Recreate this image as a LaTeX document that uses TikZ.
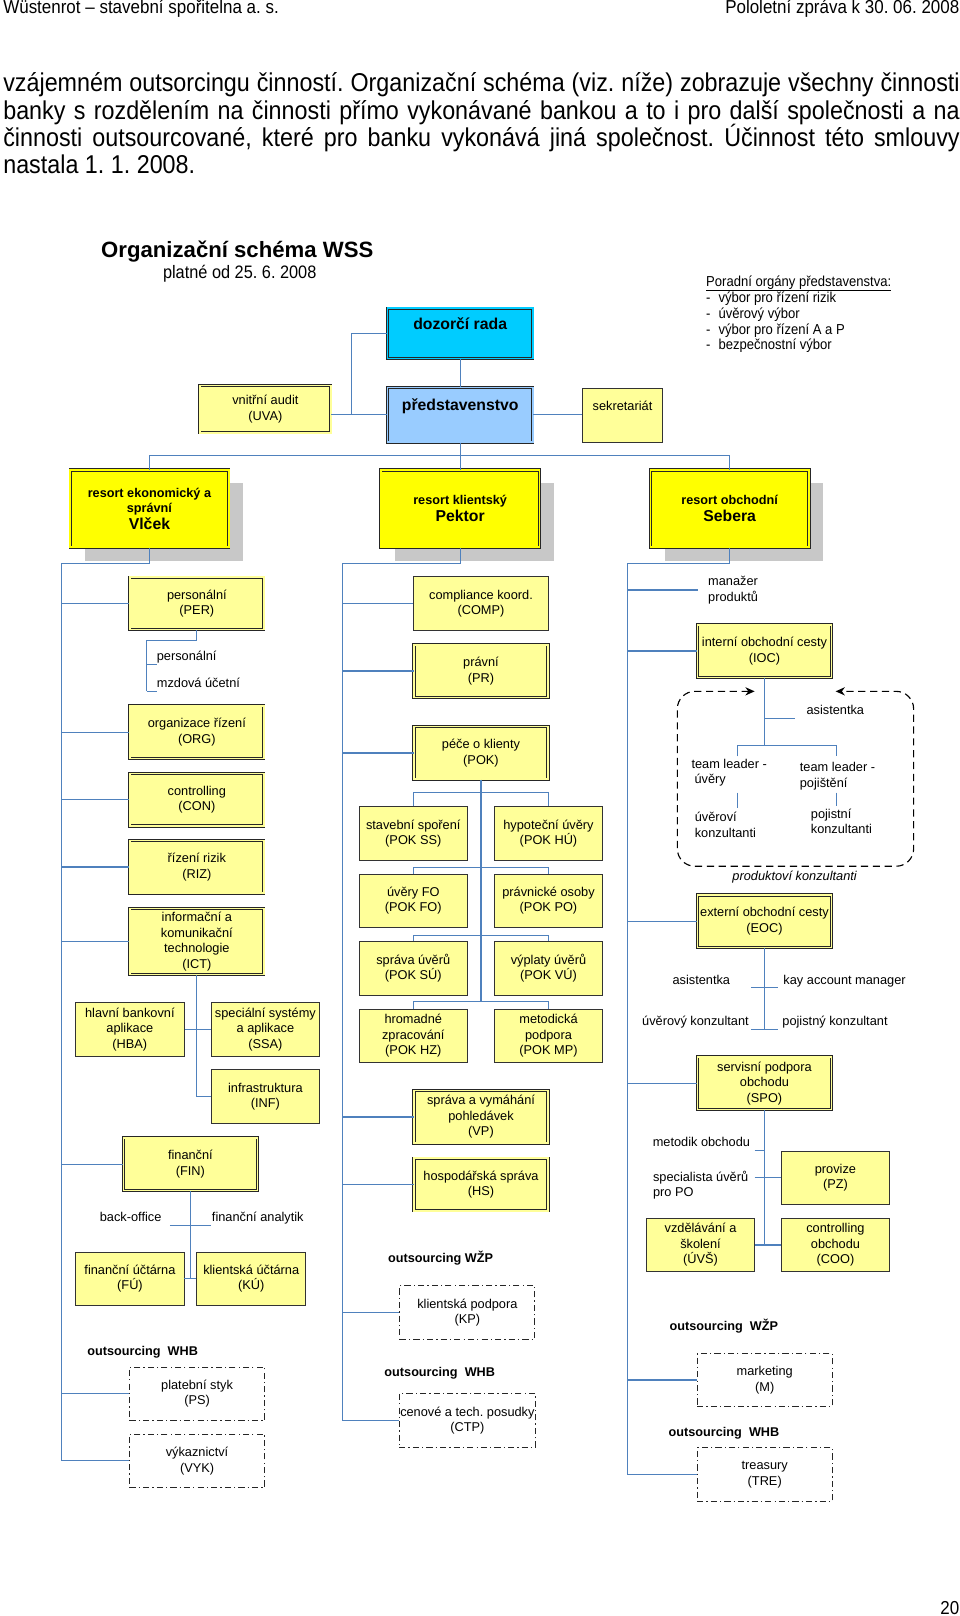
\documentclass[tikz,border=0pt]{standalone}
\usepackage{fontspec}
\setmainfont{Liberation Sans}
\newfontfamily\narrowfont[FakeStretch=0.905]{Liberation Sans}
\usetikzlibrary{arrows.meta,shadows}
\frenchspacing

\definecolor{linkblue}{RGB}{79,129,189}
\definecolor{paleyellow}{RGB}{255,255,153}
\definecolor{brightyellow}{RGB}{255,255,0}
\definecolor{boardcyan}{RGB}{0,204,255}
\definecolor{boardblue}{RGB}{153,204,255}
\definecolor{shadowgray}{RGB}{200,200,200}

\newcommand\wssbox{\fontsize{12.4}{15}\selectfont}
\newcommand\wssbody{\narrowfont\fontsize{25}{26.5}\selectfont}
\newcommand\wsshead{\narrowfont\fontsize{18.2}{20}\selectfont}

\begin{document}
\begin{tikzpicture}[x=1pt, y=-1pt,
    conn/.style={draw=linkblue, line width=1.1pt},
    boxbase/.style={rectangle, inner sep=1pt, align=center, font=\wssbox},
    pale/.style={boxbase, draw=black!80, line width=0.8pt, fill=paleyellow},
    dbl/.style={boxbase, draw=black!85, line width=0.75pt, double=#1, double distance=1.5pt, fill=#1},
    dbl/.default=paleyellow,
    outsrc/.style={boxbase, draw=black!85, line width=0.9pt, dash pattern=on 6pt off 3pt on 1.2pt off 3pt, fill=white},
    wbox/.style={minimum width=130pt, minimum height=51pt},
    sbox/.style={minimum width=105pt, minimum height=52pt},
    resort/.style={dbl=brightyellow, minimum width=154pt, minimum height=75pt,
        font=\bfseries\fontsize{12.3}{15}\selectfont,
        drop shadow={shadow xshift=14pt, shadow yshift=-13pt, fill=shadowgray, opacity=1}},
    lbl/.style={inner sep=0pt, align=left, font=\wssbox},
    tick/.style={lbl, text depth=3.5pt},
    outlbl/.style={inner sep=0pt, font=\bfseries\fontsize{12.3}{14}\selectfont},
    frame/.style={dash pattern=on 7pt off 4.5pt, line width=1.1pt, rounded corners=17pt,
        arrows={Stealth[length=9pt,width=8pt]-Stealth[length=9pt,width=8pt]}}]

    \fill[white] (0,0) rectangle (931,1568);

    \node[anchor=base west, inner sep=0pt, font=\wsshead] (hleft) at (3,13.5) {Wüstenrot – stavební spořitelna a. s.};
    \node[anchor=base east, inner sep=0pt, font=\wsshead] (hright) at (931,13.5) {Pololetní zpráva k 30. 06. 2008};

    \node[anchor=base west, inner sep=0pt, font=\wssbody] (par1) at (3,89) {\makebox[928pt][s]{vzájemném outsorcingu činností. Organizační schéma (viz. níže) zobrazuje všechny činnosti}};
    \node[anchor=base west, inner sep=0pt, font=\wssbody] (par2) at (3,115.5) {\makebox[928pt][s]{banky s rozdělením na činnosti přímo vykonávané bankou a to i pro další společnosti a na}};
    \node[anchor=base west, inner sep=0pt, font=\wssbody] (par3) at (3,142) {\makebox[928pt][s]{činnosti outsourcované, které pro banku vykonává jiná společnost. Účinnost této smlouvy}};
    \node[anchor=base west, inner sep=0pt, font=\wssbody] (par4) at (3,168.5) {nastala 1. 1. 2008.};

    \node[anchor=base west, inner sep=0pt, font=\bfseries\fontsize{21.5}{24}\selectfont] (title) at (98,250) {Organizační schéma WSS};
    \node[anchor=base west, inner sep=0pt, font=\narrowfont\fontsize{17.5}{20}\selectfont] (platne) at (158,270.5) {platné od 25. 6. 2008};
    \node[anchor=north west, inner sep=0pt, align=left, font=\narrowfont\fontsize{14}{15.2}\selectfont] (porad) at (685,267) {\underline{Poradní orgány představenstva:}\\
        \makebox[12pt][l]{-}výbor pro řízení rizik\\
        \makebox[12pt][l]{-}úvěrový výbor\\
        \makebox[12pt][l]{-}výbor pro řízení A a P\\
        \makebox[12pt][l]{-}bezpečnostní výbor};

    % vedeni
    \node[dbl=boardcyan, minimum width=141pt, minimum height=49pt, font=\bfseries\fontsize{15.3}{17}\selectfont, text height=11pt, text depth=19pt] (dozor) at (446.5,323.5) {dozorčí rada};
    \node[dbl=boardblue, minimum width=141pt, minimum height=53pt, font=\bfseries\fontsize{15.3}{17}\selectfont, text height=11pt, text depth=19pt] (pred) at (446.5,402.5) {představenstvo};
    \node[dbl, minimum width=127pt, minimum height=46pt] (audit) at (257.5,397) {vnitřní audit\\(UVA)};
    \node[pale, minimum width=78pt, minimum height=52pt, text height=9pt, text depth=18pt] (sekr) at (604,403) {sekretariát};

    \draw[conn] (dozor.south) -- (pred.north);
    \coordinate (dj) at (341,402.5);
    \draw[conn] (dozor.west) -| (dj);
    \draw[conn] (audit.east |- pred.west) -- (pred.west);
    \draw[conn] (pred.east) -- (sekr.west |- pred.east);

    % resorty
    \node[resort] (ekon) at (145,493.5) {resort ekonomický a\\správní\\[1pt]{\fontsize{15.3}{18}\selectfont Vlček}};
    \node[resort] (klient) at (446.5,493.5) {resort klientský\\[1pt]{\fontsize{15.3}{18}\selectfont Pektor}};
    \node[resort] (obch) at (708,493.5) {resort obchodní\\[1pt]{\fontsize{15.3}{18}\selectfont Sebera}};

    \coordinate (rb) at (446.5,442);
    \draw[conn] (pred.south) -- (klient.north);
    \draw[conn] (ekon.north) |- (rb) -| (obch.north);

    % resort ekonomicky
    \node[dbl, wbox] (per) at (191,585.5) {personální\\(PER)};
    \node[tick, anchor=south west, inner xsep=9.7pt] (persl) at (142.3,645) {personální};
    \node[tick, anchor=south west, inner xsep=9.7pt] (mzda) at (142.3,670.8) {mzdová účetní};
    \node[dbl, wbox] (org) at (191,710.4) {organizace řízení\\(ORG)};
    \node[dbl, wbox] (con) at (191,776) {controlling\\(CON)};
    \node[dbl, wbox] (riz) at (191,841.2) {řízení rizik\\(RIZ)};
    \node[dbl, wbox, minimum height=64pt] (ict) at (191,913.5) {informační a\\komunikační\\technologie\\(ICT)};
    \node[pale, sbox, minimum width=106pt] (hba) at (126,998.6) {hlavní bankovní\\aplikace\\(HBA)};
    \node[pale, sbox, minimum width=104pt] (ssa) at (257.5,998.6) {speciální systémy\\a aplikace\\(SSA)};
    \node[pale, sbox, minimum width=104pt] (inf) at (257.5,1063.9) {infrastruktura\\(INF)};
    \node[dbl, wbox, minimum width=130pt] (fin) at (184.75,1129.5) {finanční\\(FIN)};
    \node[tick, anchor=south east, inner xsep=8.1pt] (bo) at (164.9,1188.7) {back-office};
    \node[tick, anchor=south west, inner xsep=0.9pt] (fa) at (204.6,1188.7) {finanční analytik};
    \node[pale, sbox] (fu) at (126.1,1240.8) {finanční účtárna\\(FÚ)};
    \node[pale, sbox, minimum width=106pt] (ku) at (243.75,1240.8) {klientská účtárna\\(KÚ)};
    \node[outlbl] (owhb1) at (138.5,1312) {outsourcing\ \ WHB};
    \node[outsrc, wbox, minimum width=131pt, minimum height=52pt] (ps) at (191.2,1352.4) {platební styk\\(PS)};
    \node[outsrc, wbox, minimum width=131pt, minimum height=52pt] (vyk) at (191.2,1417.5) {výkaznictví\\(VYK)};

    \coordinate (t1) at (60,547);
    \draw[conn] (ekon.south) |- (t1) -- (t1 |- vyk.west) -- (vyk.west);
    \foreach \n in {per,org,con,riz,ict,fin,ps}
        \draw[conn] (\n.west -| t1) -- (\n.west);
    \draw[conn] (per.south) -- ++(0,10.5) -| (mzda.south west);
    \draw[conn] (persl.south west) -- ++(9.7,0);
    \draw[conn] (mzda.south west) -- ++(9.7,0);
    \draw[conn] (ict.south) |- (inf.west);
    \draw[conn] (hba.east) -- (ssa.west);
    \draw[conn] (fin.south) -- (fin.south |- fu.east);
    \draw[conn] (bo.south east) -- (fa.south west);
    \draw[conn] (fu.east) -- (ku.west);

    % resort klientsky
    \node[pale, wbox, minimum width=131pt, minimum height=52pt] (comp) at (466.7,585.6) {compliance koord.\\(COMP)};
    \node[dbl, wbox] (pr) at (466.7,651.1) {právní\\(PR)};
    \node[dbl, wbox] (pok) at (466.7,730.6) {péče o klienty\\(POK)};
    \node[pale, sbox] (ss) at (401,808.7) {stavební spoření\\(POK SS)};
    \node[pale, sbox] (hu) at (532.2,808.7) {hypoteční úvěry\\(POK HÚ)};
    \node[pale, sbox] (fo) at (401,874.1) {úvěry FO\\(POK FO)};
    \node[pale, sbox] (po) at (532.2,874.1) {právnické osoby\\(POK PO)};
    \node[pale, sbox] (su) at (401,939.5) {správa úvěrů\\(POK SÚ)};
    \node[pale, sbox] (vu) at (532.2,939.5) {výplaty úvěrů\\(POK VÚ)};
    \node[pale, sbox] (hz) at (401,1005) {hromadné\\zpracování\\(POK HZ)};
    \node[pale, sbox] (mp) at (532.2,1005) {metodická\\podpora\\(POK MP)};
    \node[dbl, wbox] (vp) at (466.7,1083.8) {správa a vymáhání\\pohledávek\\(VP)};
    \node[dbl, wbox] (hs) at (466.7,1149.3) {hospodářská správa\\(HS)};
    \node[outlbl] (owzp2) at (427.5,1220.4) {outsourcing WŽP};
    \node[outsrc, wbox, minimum width=131pt, minimum height=52pt] (kp) at (453.5,1273.4) {klientská podpora\\(KP)};
    \node[outlbl] (owhb2) at (426.7,1332.6) {outsourcing\ \ WHB};
    \node[outsrc, wbox, minimum width=131pt, minimum height=52pt] (ctp) at (453.5,1378.3) {cenové a tech. posudky\\(CTP)};

    \coordinate (t2) at (332.3,547);
    \draw[conn] (klient.south) |- (t2) -- (t2 |- ctp.west) -- (ctp.west);
    \foreach \n in {comp,pr,pok,vp,hs,kp}
        \draw[conn] (\n.west -| t2) -- (\n.west);
    \coordinate (pokend) at (466.7,972.4);
    \draw[conn] (pok.south) -- (pokend);
    \draw[conn] (ss.north) -- ++(0,-13) -| (hu.north);
    \draw[conn] (fo.north) -- ++(0,-6) -| (po.north);
    \draw[conn] (su.north) -- ++(0,-5.5) -| (vu.north);
    \draw[conn] (hz.north) -- ++(0,-6.5) -| (mp.north);

    % resort obchodni
    \node[lbl, anchor=west, inner xsep=9.7pt] (manazer) at (677.3,572.5) {manažer\\produktů};
    \node[dbl, wbox] (ioc) at (741.75,631.7) {interní obchodní cesty\\(IOC)};
    \node[tick, anchor=south west, inner xsep=10.7pt] (asis1) at (771.7,697.3) {asistentka};
    \node[lbl, anchor=north west] (tl1) at (670.8,736.5) {team leader -\\\hspace{3pt}úvěry};
    \node[lbl, anchor=north west] (tl2) at (775.9,739.5) {team leader -\\pojištění};
    \node[lbl, anchor=north west] (uk) at (674,788) {úvěroví\\konzultanti};
    \node[lbl, anchor=north west] (pkz) at (786.6,784.6) {pojistní\\konzultanti};
    \node[inner sep=0pt, font=\wssbox\itshape] (prodk) at (771,851) {produktoví konzultanti};
    \node[dbl, wbox] (eoc) at (741.75,893.9) {externí obchodní cesty\\(EOC)};
    \node[tick, anchor=south east, inner xsep=20.4pt] (asis2) at (729,958.5) {asistentka};
    \node[tick, anchor=south west, inner xsep=5.2pt] (kay) at (754.8,958.5) {kay account manager};
    \node[tick, anchor=south east, inner xsep=2.3pt] (uvk) at (729,999) {úvěrový konzultant};
    \node[tick, anchor=south west, inner xsep=4.2pt] (pojk) at (754.8,999) {pojistný konzultant};
    \node[dbl, wbox] (spo) at (741.75,1051) {servisní podpora\\obchodu\\(SPO)};
    \node[tick, anchor=south east, inner xsep=4.2pt] (metod) at (732.2,1116.3) {metodik obchodu};
    \node[lbl, anchor=north east, inner xsep=6pt] (spec) at (732.2,1136) {specialista úvěrů\\pro PO};
    \node[pale, sbox] (pz) at (810.65,1142.8) {provize\\(PZ)};
    \node[pale, sbox] (uvs) at (679.7,1208) {vzdělávání a\\školení\\(ÚVŠ)};
    \node[pale, sbox] (coo) at (810.65,1208) {controlling\\obchodu\\(COO)};
    \node[outlbl] (owzp3) at (702.3,1286.7) {outsourcing\ \ WŽP};
    \node[outsrc, wbox, minimum width=131pt, minimum height=51pt] (mkt) at (742,1339) {marketing\\(M)};
    \node[outlbl] (owhb3) at (702.5,1391) {outsourcing\ \ WHB};
    \node[outsrc, wbox, minimum width=131pt, minimum height=52pt] (tre) at (742,1430.9) {treasury\\(TRE)};

    \coordinate (t3) at (608.7,547);
    \draw[conn] (obch.south) |- (t3) -- (t3 |- tre.west) -- (tre.west);
    \foreach \n in {manazer,ioc,eoc,spo,mkt}
        \draw[conn] (\n.west -| t3) -- (\n.west);
    \coordinate (iocbar) at (741.75,723.2);
    \coordinate (tlu) at (716,733.9);
    \coordinate (tlp) at (811.4,733.9);
    \draw[conn] (ioc.south) -- (iocbar);
    \draw[conn] (asis1.south west -| ioc.south) -- (asis1.south west);
    \draw[conn] (tlu) |- (iocbar) -| (tlp);
    \coordinate (ku1) at (716,769);
    \coordinate (ku2) at (716,783.7);
    \coordinate (kp1) at (811.4,769);
    \coordinate (kp2) at (811.4,782.4);
    \draw[conn] (ku1) -- (ku2);
    \draw[conn] (kp1) -- (kp2);
    \draw[frame] (732.2,670.8) -- (657.2,670.8) -- (657.2,840.5) -- (886.5,840.5) -- (886.5,670.8) -- (810.8,670.8);
    \draw[conn] (eoc.south) -- (eoc.south |- uvk.south east);
    \draw[conn] (asis2.south east) -- (kay.south west);
    \draw[conn] (uvk.south east) -- (pojk.south west);
    \draw[conn] (spo.south) -- (spo.south |- coo.west);
    \draw[conn] (metod.south east) -- (metod.south east -| spo.south);
    \draw[conn] (spec.north east |- pz.west) -- (pz.west);
    \draw[conn] (uvs.east) -- (coo.west);

    \node[anchor=base east, inner sep=0pt, font=\wsshead] (pgnum) at (931,1566.5) {20};

\end{tikzpicture}
\end{document}
